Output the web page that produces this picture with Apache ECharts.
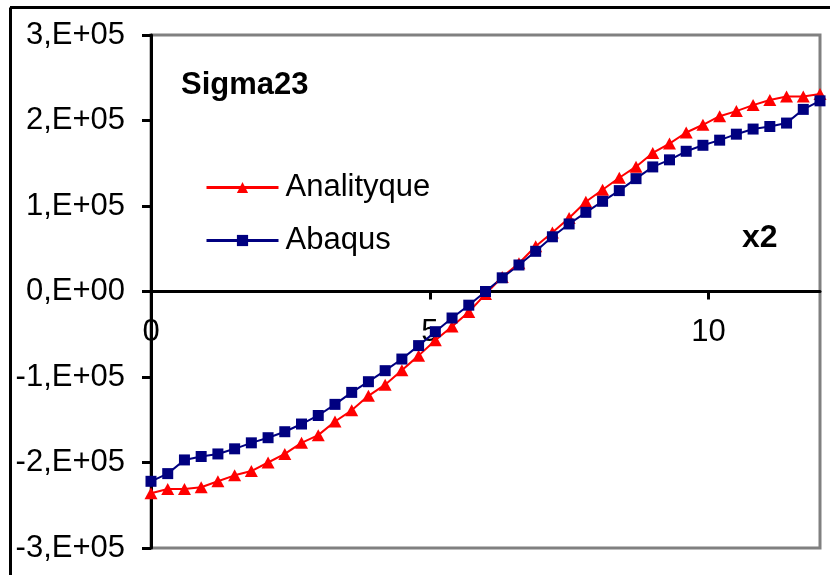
<!DOCTYPE html>
<html>
<head>
<meta charset="utf-8">
<script src="https://cdn.jsdelivr.net/npm/echarts@6/dist/echarts.min.js"></script>
<style>
html,body{margin:0;padding:0;background:#fff;}
#chart{width:830px;height:575px;}
</style>
</head>
<body>
<div id="chart"></div>
<script>
var xValues = [0, 0.3, 0.6, 0.9, 1.2, 1.5, 1.8, 2.1, 2.4, 2.7, 3, 3.3, 3.6, 3.9, 4.2, 4.5, 4.8, 5.1, 5.4, 5.7, 6, 6.3, 6.6, 6.9, 7.2, 7.5, 7.8, 8.1, 8.4, 8.7, 9, 9.3, 9.6, 9.9, 10.2, 10.5, 10.8, 11.1, 11.4, 11.7, 12];
var analityque = [-236000, -231000, -231000, -229000, -222000, -215000, -210000, -200000, -190000, -177000, -168000, -152000, -139000, -122000, -109000, -92000, -75000, -57000, -41000, -24000, -3000, 17000, 33000, 53000, 69000, 86000, 105000, 119000, 133000, 146000, 162000, 173000, 186000, 195000, 205000, 211000, 218000, 224000, 228000, 228000, 231000];
var abaqus = [-222000, -213000, -197000, -193000, -190000, -184000, -177000, -171000, -164000, -155000, -145000, -132000, -118000, -105500, -92600, -79000, -63300, -47000, -31000, -16000, 0, 16000, 31000, 47000, 64000, 79000, 92600, 105500, 118000, 132000, 145700, 154000, 164000, 171000, 177000, 184000, 190000, 193000, 197000, 213000, 223000];
var seriesNames = ['Analityque', 'Abaqus'];
var yTicks = ['-3,E+05', '-2,E+05', '-1,E+05', '0,E+00', '1,E+05', '2,E+05', '3,E+05'];
var titleText = 'Sigma23';
var noteText = 'x2';

function pairs(xs, ys) { return xs.map(function (x, i) { return [x, ys[i]]; }); }

var FONT = 'Liberation Sans';
var GRID_TOP = 35, GRID_BOTTOM = 27, H = 575;
var plotH = H - GRID_TOP - GRID_BOTTOM;
// distance from plot bottom up to y = 0 (middle of symmetric range)
var zeroOffset = -plotH / 2;

var chart = echarts.init(document.getElementById('chart'), null, {renderer: 'canvas'});
chart.setOption({
  animation: false,
  backgroundColor: '#ffffff',
  title: {
    text: titleText, left: 181, top: 70, padding: 0,
    textStyle: {fontFamily: FONT, fontWeight: 'bold', fontSize: 31, color: '#000'}
  },
  legend: {
    orient: 'vertical', left: 205, top: 172, padding: 0,
    itemWidth: 72, itemHeight: 14, itemGap: 22,
    lineStyle: {width: 3},
    textStyle: {fontFamily: FONT, fontSize: 31, color: '#000', padding: [0, 0, 0, 2]},
    data: seriesNames
  },
  grid: {
    left: 151, top: GRID_TOP, right: 10, bottom: GRID_BOTTOM,
    outerBoundsMode: 'none', containLabel: false,
    show: true, borderColor: '#808080', borderWidth: 3, backgroundColor: '#fff'
  },
  xAxis: {
    type: 'value', min: 0, max: 12, interval: 5, position: 'bottom', offset: zeroOffset,
    axisLine: {onZero: false, lineStyle: {color: '#000', width: 3}},
    axisTick: {show: true, length: 8, lineStyle: {color: '#000', width: 3}},
    axisLabel: {fontFamily: FONT, fontSize: 31, color: '#000', margin: 25, showMaxLabel: false},
    splitLine: {show: false}
  },
  yAxis: {
    type: 'value', min: -300000, max: 300000, interval: 100000,
    axisLine: {show: true, onZero: false, lineStyle: {color: '#000', width: 3}},
    axisTick: {show: true, length: 9, lineStyle: {color: '#000', width: 3}},
    axisLabel: {
      fontFamily: FONT, fontSize: 31, color: '#000', margin: 26,
      formatter: function (v) { return yTicks[Math.round(v / 100000) + 3]; }
    },
    splitLine: {show: false}
  },
  graphic: [
    {type: 'line', shape: {x1: 10, y1: 7.5, x2: 830, y2: 7.5}, style: {stroke: '#000', lineWidth: 3}, z: 10},
    {type: 'line', shape: {x1: 10.5, y1: 7.5, x2: 10.5, y2: 575}, style: {stroke: '#000', lineWidth: 3}, z: 10},
    {type: 'text', left: 742, top: 222, style: {text: noteText, fontFamily: FONT, fontWeight: 'bold', fontSize: 32, fill: '#000'}, z: 10}
  ],
  series: [
    {
      name: seriesNames[0], type: 'line', data: pairs(xValues, analityque),
      symbol: 'triangle', symbolSize: [13, 12], showSymbol: true,
      lineStyle: {color: '#ff0000', width: 2},
      itemStyle: {color: '#ff0000', borderWidth: 0}
    },
    {
      name: seriesNames[1], type: 'line', data: pairs(xValues, abaqus),
      symbol: 'rect', symbolSize: 11, showSymbol: true,
      lineStyle: {color: '#000080', width: 2},
      itemStyle: {color: '#000080', borderWidth: 0}
    }
  ]
});
</script>
</body>
</html>
